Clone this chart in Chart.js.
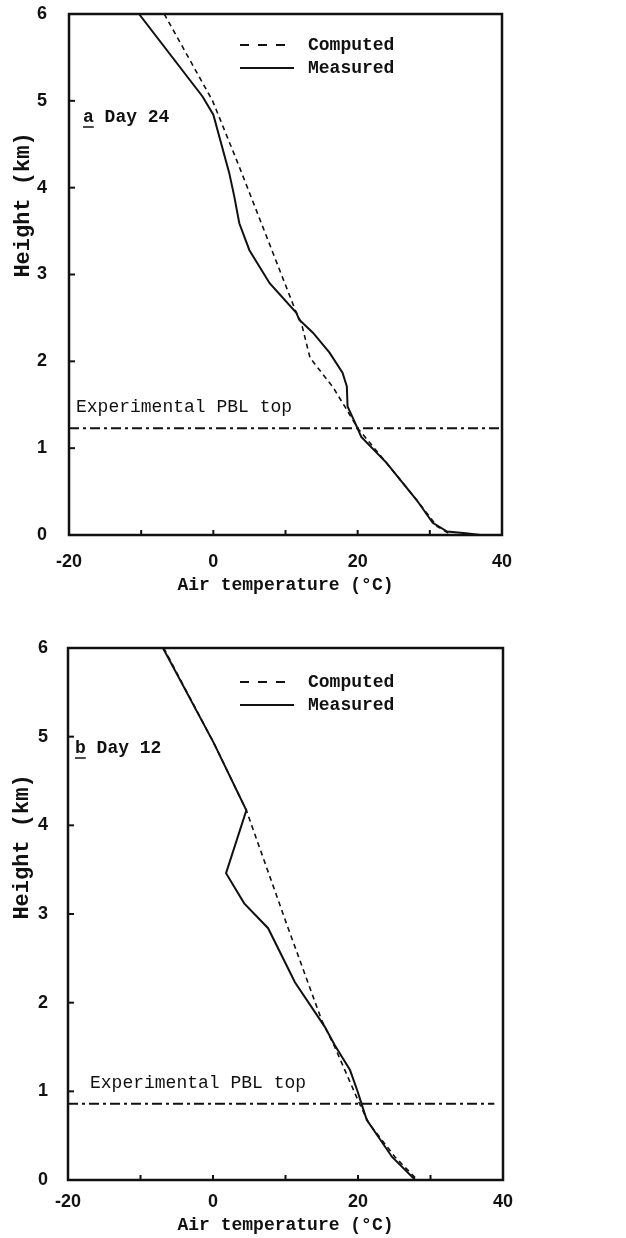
<!DOCTYPE html>
<html>
<head>
<meta charset="utf-8">
<script src="https://cdn.jsdelivr.net/npm/chart.js@4.4.1/dist/chart.umd.min.js"></script>
<style>
    body { margin: 0; background: #fff; }
    .panel { position: absolute; left: 0; width: 626px; }
</style>
</head>
<body>
<div class="panel" style="top:0;height:620px"><canvas id="chartA" width="626" height="620"></canvas></div>
<div class="panel" style="top:620px;height:618px"><canvas id="chartB" width="626" height="618"></canvas></div>
<script>
// Axis ticks
const tempTicks = [-20, 0, 20, 40];
const tempMarks = [-20, -10, 0, 10, 20, 30, 40];
const heightTicks = [0, 1, 2, 3, 4, 5, 6];

// Day 24 (panel a)
const day24MeasuredT = [-10.3, -1.5, 0.0, 2.2, 2.9, 3.6, 5.0, 7.8, 11.5, 11.9, 13.8, 16.1, 17.9, 18.5, 18.6, 19.6, 20.5, 24.0, 28.2, 30.4, 32.4, 35.0, 37.0];
const day24MeasuredH = [6.0, 5.05, 4.84, 4.17, 3.9, 3.59, 3.28, 2.9, 2.56, 2.48, 2.33, 2.1, 1.87, 1.71, 1.48, 1.30, 1.13, 0.83, 0.40, 0.14, 0.04, 0.02, 0.0];
const day24ComputedT = [-6.8, -0.1, 3.6, 11.5, 12.2, 13.4, 16.6, 18.5, 20.0, 24.0, 28.2, 31.0, 33.0];
const day24ComputedH = [6.0, 5.0, 4.24, 2.56, 2.44, 2.04, 1.70, 1.44, 1.23, 0.83, 0.40, 0.10, 0.0];
const day24PblTop = 1.23;

// Day 12 (panel b)
const day12MeasuredT = [-6.9, 0.1, 4.6, 1.8, 4.3, 7.6, 11.3, 15.4, 16.8, 18.9, 19.9, 20.6, 21.2, 24.7, 27.9];
const day12MeasuredH = [6.0, 4.93, 4.17, 3.46, 3.12, 2.84, 2.23, 1.73, 1.52, 1.24, 1.01, 0.83, 0.68, 0.26, 0.0];
const day12ComputedT = [-6.8, 0.1, 4.6, 10.1, 15.0, 16.8, 20.1, 21.5, 25.1, 28.2];
const day12ComputedH = [6.0, 4.93, 4.17, 2.9, 1.8, 1.5, 0.88, 0.64, 0.26, 0.0];
const day12PblTop = 0.86;
const day12PblEnd = 38.8;

const MONO = "'Liberation Mono', 'DejaVu Sans Mono', monospace";
const SANS = "'Liberation Sans', Arial, sans-serif";
const INK = "#111";

function toPoints(temps, heights) {
    return temps.map((t, i) => ({ x: t, y: heights[i] }));
}

// Frame, inner ticks, legend and labels
const annotate = {
    id: "annotate",
    afterDraw(chart, args, opts) {
        const { ctx, chartArea: a, scales: { x, y } } = chart;
        ctx.save();
        ctx.strokeStyle = INK;
        ctx.lineWidth = 2.5;
        ctx.strokeRect(a.left, a.top, a.right - a.left, a.bottom - a.top);

        ctx.lineWidth = 2;
        tempMarks.forEach(v => {
            const px = x.getPixelForValue(v);
            ctx.beginPath();
            ctx.moveTo(px, a.bottom);
            ctx.lineTo(px, a.bottom - 5);
            ctx.stroke();
        });
        heightTicks.forEach(v => {
            const py = y.getPixelForValue(v);
            ctx.beginPath();
            ctx.moveTo(a.left, py);
            ctx.lineTo(a.left + 6, py);
            ctx.stroke();
        });

        // legend
        const lx = a.left + opts.legendX;
        const ly = a.top + opts.legendY;
        ctx.fillStyle = INK;
        ctx.textBaseline = "middle";
        ctx.font = "bold 18px " + MONO;
        const items = chart.data.datasets.filter(d => d.inLegend);
        items.forEach((d, i) => {
            const yy = ly + i * 23;
            ctx.lineWidth = 2;
            ctx.setLineDash(d.borderDash && d.borderDash.length ? [9, 9] : []);
            ctx.beginPath();
            ctx.moveTo(lx, yy);
            ctx.lineTo(lx + 54, yy);
            ctx.stroke();
            ctx.setLineDash([]);
            ctx.fillText(d.label, lx + 68, yy);
        });

        // panel label, first letter underlined
        const px = a.left + opts.panelX;
        const py = a.top + opts.panelY;
        ctx.fillText(opts.panel + " " + opts.day, px, py);
        const w = ctx.measureText(opts.panel).width;
        ctx.lineWidth = 1.5;
        ctx.beginPath();
        ctx.moveTo(px, py + 10);
        ctx.lineTo(px + w, py + 10);
        ctx.stroke();

        // PBL label
        ctx.font = "18px " + MONO;
        ctx.fillText("Experimental PBL top", a.left + opts.pblX, y.getPixelForValue(opts.pbl) - 21);

        // y-axis title, sits above the middle of the axis
        ctx.font = "bold 22px " + MONO;
        ctx.textAlign = "center";
        ctx.translate(opts.yTitleX, a.top + opts.yTitleY);
        ctx.rotate(-Math.PI / 2);
        ctx.fillText("Height (km)", 0, 0);
        ctx.restore();
    }
};

function makeChart(id, sets, opts) {
    const ctx = document.getElementById(id).getContext("2d");
    return new Chart(ctx, {
        type: "scatter",
        data: {
            datasets: [
                {
                    label: "Computed",
                    inLegend: true,
                    data: toPoints(sets.compT, sets.compH),
                    showLine: true,
                    borderColor: INK,
                    borderWidth: 1.6,
                    borderDash: [5, 4],
                    pointRadius: 0,
                },
                {
                    label: "Measured",
                    inLegend: true,
                    data: toPoints(sets.measT, sets.measH),
                    showLine: true,
                    borderColor: INK,
                    borderWidth: 2,
                    pointRadius: 0,
                },
                {
                    label: "PBL",
                    data: [{ x: -20, y: sets.pbl }, { x: sets.pblEnd, y: sets.pbl }],
                    showLine: true,
                    borderColor: INK,
                    borderWidth: 2,
                    borderDash: [10, 4, 3, 4],
                    pointRadius: 0,
                },
            ],
        },
        options: {
            responsive: false,
            animation: false,
            layout: { padding: opts.padding },
            plugins: {
                legend: { display: false },
                tooltip: { enabled: false },
                annotate: Object.assign({ pbl: sets.pbl }, opts.labels),
            },
            scales: {
                x: {
                    type: "linear",
                    min: -20,
                    max: 40,
                    afterBuildTicks: s => { s.ticks = tempTicks.map(v => ({ value: v })); },
                    afterFit: s => { s.height = opts.xHeight; s.paddingLeft = 0; s.paddingRight = 0; },
                    grid: { display: false, drawTicks: false },
                    border: { display: false },
                    ticks: {
                        padding: opts.xTickPad,
                        color: INK,
                        maxRotation: 0,
                        font: { family: SANS, size: 18, weight: "bold" },
                    },
                    title: {
                        display: true,
                        text: "Air temperature (°C)",
                        color: INK,
                        padding: { top: 0, bottom: opts.xTitlePad },
                        font: { family: MONO, size: 18, weight: "bold" },
                    },
                },
                y: {
                    type: "linear",
                    min: 0,
                    max: 6,
                    afterBuildTicks: s => { s.ticks = heightTicks.map(v => ({ value: v })); },
                    afterFit: s => { s.width = opts.yWidth; s.paddingTop = 0; s.paddingBottom = 0; },
                    grid: { display: false, drawTicks: false },
                    border: { display: false },
                    ticks: {
                        padding: opts.yTickPad,
                        color: INK,
                        font: { family: SANS, size: 18, weight: "bold" },
                    },
                },
            },
        },
        plugins: [annotate],
    });
}

document.addEventListener("DOMContentLoaded", () => {
    makeChart("chartA", {
        measT: day24MeasuredT, measH: day24MeasuredH,
        compT: day24ComputedT, compH: day24ComputedH,
        pbl: day24PblTop, pblEnd: 40,
    }, {
        padding: { top: 14, right: 124, left: 0, bottom: 0 },
        xHeight: 85, yWidth: 69,
        xTickPad: 16, yTickPad: 22, xTitlePad: 24,
        labels: { panel: "a", day: "Day 24", panelX: 14, panelY: 103, legendX: 171, legendY: 31, pblX: 7, yTitleX: 23, yTitleY: 191 },
    });

    makeChart("chartB", {
        measT: day12MeasuredT, measH: day12MeasuredH,
        compT: day12ComputedT, compH: day12ComputedH,
        pbl: day12PblTop, pblEnd: day12PblEnd,
    }, {
        padding: { top: 28, right: 123, left: 0, bottom: 0 },
        xHeight: 58, yWidth: 68,
        xTickPad: 11, yTickPad: 20, xTitlePad: 2,
        labels: { panel: "b", day: "Day 12", panelX: 7, panelY: 100, legendX: 172, legendY: 34, pblX: 22, yTitleX: 22, yTitleY: 199 },
    });
});
</script>
</body>
</html>
